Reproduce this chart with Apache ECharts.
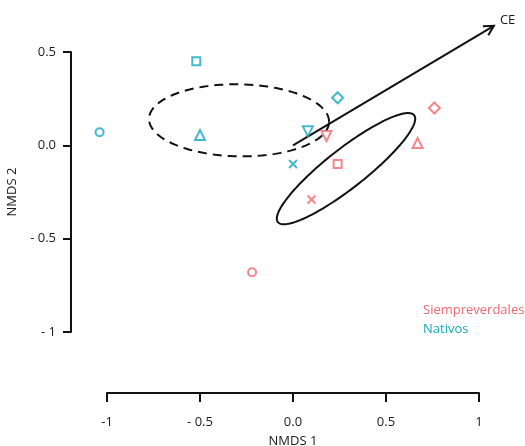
<!DOCTYPE html>
<html>
<head>
<meta charset="utf-8">
<script src="https://cdn.jsdelivr.net/npm/echarts@6/dist/echarts.min.js"></script>
<style>html,body{margin:0;padding:0;background:#fff;}#c{width:525px;height:446px;}</style>
</head>
<body>
<div id="c"></div>
<script>
// ---- data ----
const xTickValues = [-1, -0.5, 0, 0.5, 1];
const xTickLabels = ['-1', '- 0.5', '0.0', '0.5', '1'];
const yTickValues = [-1, -0.5, 0, 0.5];
const yTickLabels = ['- 1', '- 0.5', '0.0', '0.5'];

const groups = ['Siempreverdales', 'Nativos'];
const shapes = ['circle', 'rect', 'triangle', 'diamond', 'invTriangle', 'cross'];
const siempreX = [-0.22, 0.24, 0.67, 0.76, 0.18, 0.10];
const siempreY = [-0.68, -0.10, 0.012, 0.20, 0.05, -0.29];
const nativosX = [-1.04, -0.52, -0.50, 0.24, 0.08, 0.00];
const nativosY = [0.07, 0.45, 0.055, 0.255, 0.075, -0.10];

// ellipses: [dashed (Nativos), solid (Siempreverdales)]
const ellipseCx = [-0.29, 0.285];
const ellipseCy = [0.134, -0.125];
const ellipseA = [0.484, 0.465];
const ellipseB = [0.193, 0.105];
const ellipseAngle = [-1, 38];
const ellipseDashed = [true, false];

// environmental vector
const vectorX = [1.08];
const vectorY = [0.64];
const vectorLabel = ['CE'];

// ---- styles ----
const PINK = '#F0686F';
const TEAL = '#14A8BE';
const INK = '#111';
const TEXT = '#1a1a1a';
const FONT = 'Open Sans';

const symbolDef = {
  circle: { symbol: 'circle', size: 8, rot: 0 },
  rect: { symbol: 'rect', size: 8, rot: 0 },
  triangle: { symbol: 'triangle', size: 10, rot: 0 },
  diamond: { symbol: 'diamond', size: 11, rot: 0 },
  invTriangle: { symbol: 'triangle', size: 10, rot: 180 },
  cross: { symbol: 'path://M0,0L10,10M10,0L0,10', size: 8, rot: 0 }
};

function pts(xs, ys) {
  return xs.map((x, i) => {
    const d = symbolDef[shapes[i]];
    return { value: [x, ys[i]], symbol: d.symbol, symbolSize: d.size, symbolRotate: d.rot };
  });
}

function fmt(values, labels) {
  return v => {
    const i = values.findIndex(t => Math.abs(t - v) < 1e-9);
    return i >= 0 ? labels[i] : '';
  };
}

const chart = echarts.init(document.getElementById('c'), null, { renderer: 'canvas' });

const option = {
  backgroundColor: '#fff',
  animation: false,
  grid: { left: 107, right: 46, top: 52, bottom: 114, containLabel: false, outerBoundsMode: 'none' },
  legend: {
    orient: 'vertical',
    left: 413,
    top: 298,
    itemWidth: 0,
    itemHeight: 14,
    itemGap: 6,
    selectedMode: false,
    data: [
      { name: groups[0], icon: 'none', textStyle: { color: PINK } },
      { name: groups[1], icon: 'none', textStyle: { color: TEAL } }
    ],
    textStyle: { fontFamily: FONT, fontSize: 13, padding: 0 }
  },
  xAxis: {
    type: 'value', min: -1, max: 1, interval: 0.5,
    position: 'bottom', offset: 61,
    name: 'NMDS 1', nameLocation: 'middle', nameGap: 42,
    nameTextStyle: { fontFamily: FONT, fontSize: 13, color: TEXT },
    axisLine: { show: true, onZero: false, lineStyle: { color: INK, width: 2 } },
    axisTick: { show: true, length: 9, lineStyle: { color: INK, width: 2 } },
    axisLabel: { margin: 23, fontFamily: FONT, fontSize: 13, color: TEXT, formatter: fmt(xTickValues, xTickLabels) },
    splitLine: { show: false }
  },
  yAxis: {
    type: 'value', min: -1, max: 0.5, interval: 0.5,
    position: 'left', offset: 36,
    name: 'NMDS 2', nameLocation: 'middle', nameGap: 44, nameRotate: 90,
    nameTextStyle: { fontFamily: FONT, fontSize: 13, color: TEXT },
    axisLine: { show: true, onZero: false, lineStyle: { color: INK, width: 2 } },
    axisTick: { show: true, length: 8, lineStyle: { color: INK, width: 2 } },
    axisLabel: { margin: 15, fontFamily: FONT, fontSize: 13, color: TEXT, formatter: fmt(yTickValues, yTickLabels) },
    splitLine: { show: false }
  },
  series: [
    {
      type: 'custom',
      name: 'ellipses',
      clip: false,
      silent: true,
      z: 1,
      data: ellipseCx.map((cx, i) => [cx, ellipseCy[i], i]),
      renderItem: function (params, api) {
        const i = api.value(2);
        const cx = ellipseCx[i], cy = ellipseCy[i], a = ellipseA[i], b = ellipseB[i];
        const th = ellipseAngle[i] * Math.PI / 180;
        const points = [];
        const N = 120;
        for (let k = 0; k < N; k++) {
          const t = 2 * Math.PI * k / N;
          const x = cx + a * Math.cos(t) * Math.cos(th) - b * Math.sin(t) * Math.sin(th);
          const y = cy + a * Math.cos(t) * Math.sin(th) + b * Math.sin(t) * Math.cos(th);
          points.push(api.coord([x, y]));
        }
        return {
          type: 'polygon',
          shape: { points: points },
          style: { fill: 'none', stroke: INK, lineWidth: 2, lineDash: ellipseDashed[i] ? [9, 6] : null }
        };
      }
    },
    {
      type: 'custom',
      name: 'vector',
      clip: false,
      silent: true,
      z: 2,
      data: vectorX.map((x, i) => [x, vectorY[i], i]),
      renderItem: function (params, api) {
        const i = api.value(2);
        const p0 = api.coord([0, 0]);
        const p1 = api.coord([vectorX[i], vectorY[i]]);
        const ang = Math.atan2(p1[1] - p0[1], p1[0] - p0[0]);
        const L = 11, w = 0.5;
        const h1 = [p1[0] - L * Math.cos(ang - w), p1[1] - L * Math.sin(ang - w)];
        const h2 = [p1[0] - L * Math.cos(ang + w), p1[1] - L * Math.sin(ang + w)];
        return {
          type: 'group',
          children: [
            { type: 'line', shape: { x1: p0[0], y1: p0[1], x2: p1[0], y2: p1[1] }, style: { stroke: INK, lineWidth: 2 } },
            { type: 'polyline', shape: { points: [h1, p1, h2] }, style: { stroke: INK, lineWidth: 2, fill: 'none' } },
            { type: 'text', x: p1[0] + 6, y: p1[1] - 6, style: { text: vectorLabel[i], fill: TEXT, fontFamily: FONT, fontSize: 13, verticalAlign: 'middle', align: 'left' } }
          ]
        };
      }
    },
    {
      type: 'scatter',
      name: groups[0],
      clip: false,
      z: 3,
      itemStyle: { color: 'rgba(255,255,255,0)', borderColor: PINK, borderWidth: 2 },
      data: pts(siempreX, siempreY)
    },
    {
      type: 'scatter',
      name: groups[1],
      clip: false,
      z: 3,
      itemStyle: { color: 'rgba(255,255,255,0)', borderColor: TEAL, borderWidth: 2 },
      data: pts(nativosX, nativosY)
    }
  ]
};
chart.setOption(option);
</script>
</body>
</html>
